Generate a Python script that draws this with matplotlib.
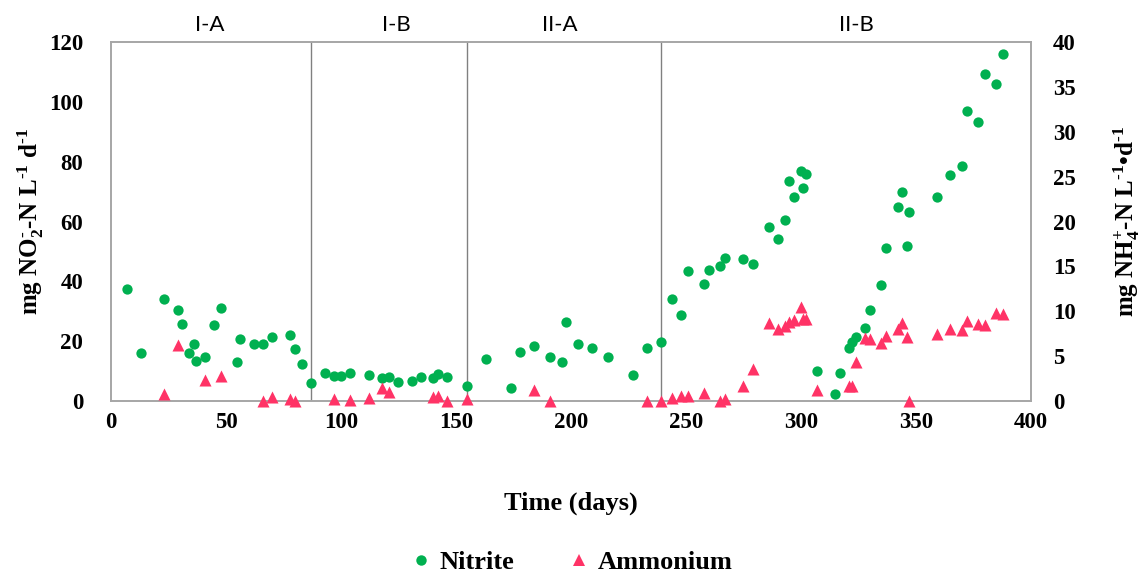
import matplotlib
matplotlib.use("Agg")
import matplotlib.pyplot as plt
from matplotlib.lines import Line2D
import matplotlib.transforms as mtransforms

# Data
nitrite_day = [7, 13, 23, 29, 31, 34, 36, 37, 41, 45,
               48, 55, 56, 62, 66, 70, 78, 80, 83, 87,
               93, 97, 100, 104, 112, 118, 121, 125, 131, 135,
               140, 142, 146, 155, 163, 174, 178, 184, 191, 196,
               198, 203, 209, 216, 227, 233, 239, 244, 248, 251,
               258, 260, 265, 267, 275, 279, 286, 290, 293, 295,
               297, 300, 302, 301, 307, 315, 317, 321, 322, 324,
               328, 330, 335, 337, 342, 344, 346, 347, 359, 365,
               370, 372, 377, 380, 385, 388]
nitrite_rate = [37.4, 16.0, 34.2, 30.4, 25.8, 16.0, 19.2, 13.4, 14.8, 25.5,
                31.1, 12.9, 20.8, 19.2, 19.1, 21.5, 22.2, 17.5, 12.5, 6.0,
                9.4, 8.4, 8.5, 9.5, 8.7, 7.8, 8.0, 6.5, 6.8, 7.9,
                7.6, 9.1, 8.0, 4.9, 14.0, 4.5, 16.3, 18.5, 14.7, 13.2,
                26.4, 19.2, 17.8, 14.7, 8.8, 17.6, 19.8, 34.1, 28.8, 43.5,
                39.0, 43.9, 45.3, 47.8, 47.5, 45.8, 58.1, 54.1, 60.4, 73.5,
                68.3, 77.0, 75.8, 71.1, 10.0, 2.3, 9.4, 17.6, 19.7, 21.3,
                24.5, 30.3, 38.9, 51.1, 64.8, 70.0, 51.7, 63.3, 68.3, 75.6,
                78.5, 97.1, 93.3, 109.5, 105.9, 116.0]

ammonium_day = [23, 29, 41, 48, 66, 70, 78, 80, 97, 104,
                112, 118, 121, 140, 142, 146, 155, 184, 191, 233,
                239, 244, 248, 251, 258, 265, 267, 275, 279, 286,
                290, 293, 295, 297, 300, 301, 302, 307, 321, 322,
                324, 328, 330, 335, 337, 342, 344, 346, 347, 359,
                365, 370, 372, 377, 380, 385, 388]
ammonium_rate = [0.8, 6.2, 2.3, 2.8, 0.0, 0.4, 0.2, 0.0, 0.2, 0.1,
                 0.3, 1.5, 1.0, 0.5, 0.6, 0.0, 0.2, 1.2, 0.0, 0.0,
                 0.0, 0.3, 0.6, 0.6, 0.9, 0.0, 0.2, 1.7, 3.6, 8.7,
                 8.0, 8.4, 8.8, 9.0, 10.5, 9.1, 9.1, 1.2, 1.7, 1.7,
                 4.4, 7.0, 6.9, 6.5, 7.2, 8.0, 8.7, 7.1, 0.0, 7.5,
                 8.0, 7.9, 8.9, 8.6, 8.5, 9.8, 9.7]

phase_bounds = [87, 155, 239]
phase_names = ["I-A", "I-B", "II-A", "II-B"]
phase_label_x = [43, 124, 195, 324]

green = "#00B050"
red = "#FF3366"
frame = "#A6A6A6"

plt.rcParams["font.family"] = ["Liberation Serif", "DejaVu Serif"]
plt.rcParams["font.weight"] = "bold"
plt.rcParams["mathtext.fontset"] = "custom"
plt.rcParams["mathtext.rm"] = "Liberation Serif:bold"
plt.rcParams["mathtext.it"] = "Liberation Serif:bold"
plt.rcParams["mathtext.bf"] = "Liberation Serif:bold"

fig = plt.figure(figsize=(11.45, 5.85), dpi=100)
ax = fig.add_axes([0.0969, 0.3145, 0.8035, 0.6132])
ax2 = ax.twinx()

ax.scatter(nitrite_day, nitrite_rate, s=55, color=green, linewidths=0, zorder=3, clip_on=False)
ax2.scatter(ammonium_day, ammonium_rate, s=75, marker="^", color=red, linewidths=0, zorder=3, clip_on=False)

for b in phase_bounds:
    ax.axvline(b, color="#808080", lw=1.0, zorder=1)

trans = mtransforms.blended_transform_factory(ax.transData, fig.transFigure)
for name, xp in zip(phase_names, phase_label_x):
    fig.text(xp, 1 - 25 / 585, name, transform=trans, ha="center", va="center",
             fontsize=16, fontweight="normal", family=["Lato", "DejaVu Sans"])

ax.set_xlim(0, 400)
ax.set_ylim(0, 120)
ax2.set_ylim(0, 40)
ax.set_xticks(range(0, 401, 50))
ax.set_yticks(range(0, 121, 20))
ax2.set_yticks(range(0, 41, 5))

for a in (ax, ax2):
    for sp in a.spines.values():
        sp.set_color(frame)
        sp.set_linewidth(1.2)
    a.tick_params(length=0, labelsize=16.5)

ax.tick_params(axis="y", pad=20)
ax.tick_params(axis="x", pad=8)
ax2.tick_params(axis="y", pad=16)

hy = "\u2010"
ax.set_xlabel("Time (days)", fontsize=19, fontweight="bold", labelpad=42)
ax.set_ylabel("mg NO$_2^{" + hy + "}$-N L$^{" + hy + "1}$ d$^{" + hy + "1}$",
              fontsize=18, fontweight="bold", labelpad=2)
ax2.set_ylabel("mg NH$_4^{+}$-N L$^{" + hy + "1}$\u2022d$^{" + hy + "1}$",
               fontsize=18, fontweight="bold", rotation=90, labelpad=26)

handles = [Line2D([], [], marker="o", ls="", color=green, markersize=7.5, markeredgewidth=0),
           Line2D([], [], marker="^", ls="", color=red, markersize=9, markeredgewidth=0)]
fig.legend(handles, ["Nitrite", "Ammonium"], loc="center", bbox_to_anchor=(0.498, 0.039),
           ncol=2, frameon=False, fontsize=19, handletextpad=0.2, columnspacing=1.95,
           handlelength=1.0)

fig.savefig("out.png", dpi=100)
